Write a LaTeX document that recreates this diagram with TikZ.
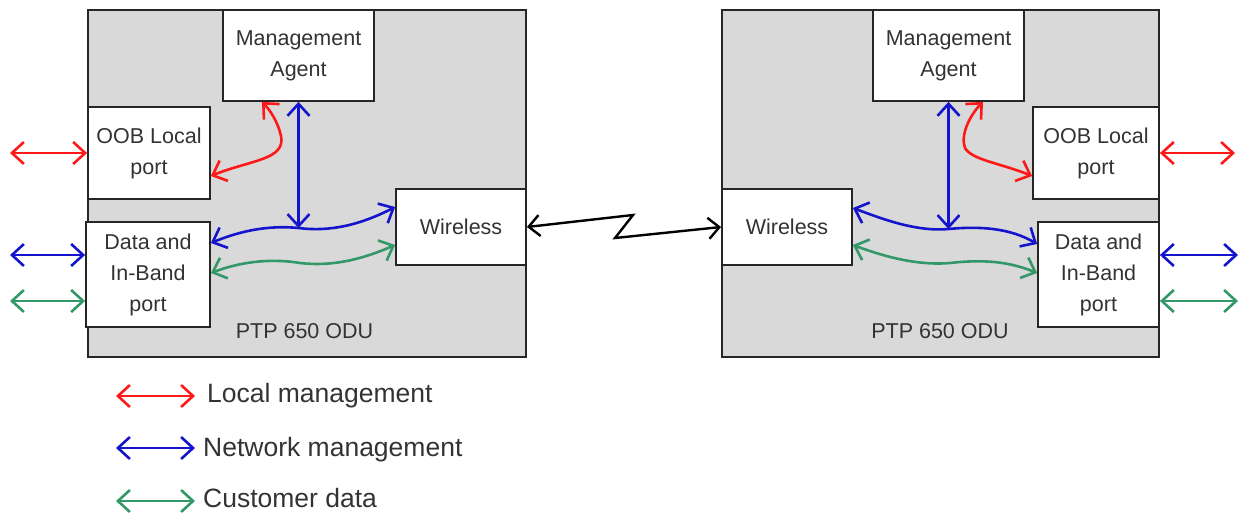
\documentclass[tikz,border=0pt]{standalone}
\usepackage{fontspec}
\setmainfont{Liberation Sans}
\usetikzlibrary{arrows.meta}
\definecolor{grayc}{RGB}{217,217,217}
\definecolor{bordc}{RGB}{38,38,38}
\definecolor{txtc}{RGB}{51,51,51}
\definecolor{redc}{RGB}{255,24,24}
\definecolor{bluec}{RGB}{20,20,205}
\definecolor{greenc}{RGB}{50,152,104}
\tikzset{
  odu/.style={draw=bordc, line width=1.8pt, fill=grayc, inner sep=0pt},
  blk/.style={draw=bordc, line width=1.8pt, fill=white, inner sep=0pt, align=center,
    text=txtc, font=\fontsize{21.5}{31}\selectfont},
  lbl/.style={text=txtc, font=\fontsize{21.5}{31}\selectfont, inner sep=0pt},
  leg/.style={text=txtc, font=\fontsize{26.5}{31}\selectfont, inner sep=0pt, anchor=base west},
  arr/.style={line width=2.6pt, {Straight Barb[length=12pt,width=22pt]}-{Straight Barb[length=12pt,width=22pt]}},
  lm/.style={arr, draw=redc},
  nm/.style={arr, draw=bluec},
  cd/.style={arr, draw=greenc},
  rf/.style={line width=2.4pt, draw=black, {Straight Barb[length=11pt,width=21pt]}-{Straight Barb[length=11pt,width=21pt]}},
}
\begin{document}
\begin{tikzpicture}[x=1pt,y=-1pt]
\useasboundingbox (0,0) rectangle (1246,514);
% ---------- left unit ----------
\node[odu, minimum width=438pt, minimum height=347pt] (oduL) at (307,183.5) {};
\node[lbl, anchor=base] (tL) at (304.5,338) {PTP 650 ODU};
\node[blk, minimum width=151pt, minimum height=91pt] (maL) at (298.5,55.5) {Management\\Agent};
\node[blk, minimum width=122pt, minimum height=92pt] (ooL) at (149,153) {OOB Local\\port};
\node[blk, minimum width=124pt, minimum height=105pt] (dL) at (148,274.5) {Data and\\In-Band\\port};
\node[blk, minimum width=130pt, minimum height=76pt] (wL) at (461,227) {Wireless};
% ---------- right unit ----------
\node[odu, minimum width=437pt, minimum height=347pt] (oduR) at (940.5,183.5) {};
\node[lbl, anchor=base] (tR) at (940,338) {PTP 650 ODU};
\node[blk, minimum width=151pt, minimum height=91pt] (maR) at (948.5,55.5) {Management\\Agent};
\node[blk, minimum width=126pt, minimum height=92pt] (ooR) at (1096,153) {OOB Local\\port};
\node[blk, minimum width=121pt, minimum height=105pt] (dR) at (1098.5,274.5) {Data and\\In-Band\\port};
\node[blk, minimum width=130pt, minimum height=76pt] (wR) at (787,227) {Wireless};
% ---------- external ends ----------
\coordinate (xRL) at (10,153);
\coordinate (xBL) at (10,255);
\coordinate (xGL) at (10,301);
\coordinate (xRR) at (1235,153);
\coordinate (xBR) at (1238,255);
\coordinate (xGR) at (1238,301);
\draw[lm] (xRL) -- (ooL.west);
\draw[nm] (xBL) -- ([yshift=19.5pt]dL.west);
\draw[cd] (xGL) -- ([yshift=-26.5pt]dL.west);
\draw[lm] (ooR.east) -- (xRR);
\draw[nm] ([yshift=19.5pt]dR.east) -- (xBR);
\draw[cd] ([yshift=-26.5pt]dR.east) -- (xGR);
% ---------- inner left ----------
\coordinate (mL) at (298.5,228);
\draw[nm] ([yshift=31.5pt]dL.east) .. controls (240,231) and (268,225) .. (mL)
   .. controls (330,232) and (360,225) .. ([yshift=20pt]wL.west);
\draw[nm] (maL.south) -- (mL);
\draw[cd] ([yshift=1.5pt]dL.east) .. controls (240,262) and (270,258) .. (300,263)
   .. controls (335,267) and (365,258) .. ([yshift=-18pt]wL.west);
\draw[lm] ([yshift=-23pt]ooL.east) .. controls (250,160) and (286,160) .. (281,136)
   .. controls (278,122) and (270,110) .. ([xshift=-36.5pt]maL.south);
% ---------- inner right ----------
\coordinate (mR) at (948.5,229);
\draw[nm] ([yshift=19pt]wR.east) .. controls (880,218) and (915,232) .. (mR)
   .. controls (980,226) and (1010,228) .. ([yshift=30.5pt]dR.west);
\draw[nm] (maR.south) -- (mR);
\draw[cd] ([yshift=-18pt]wR.east) .. controls (880,255) and (915,266) .. (950,263)
   .. controls (985,259) and (1010,262) .. ([yshift=1.5pt]dR.west);
\draw[lm] ([xshift=34.5pt]maR.south) .. controls (970,115) and (960,135) .. (965,148)
   .. controls (972,160) and (1000,163) .. ([yshift=-23pt]ooR.west);
% ---------- radio link ----------
\draw[rf] (wL.east) -- (633,215) -- (615,238) -- (wR.west);
% ---------- legend ----------
\coordinate (lr1) at (116,396); \coordinate (lr2) at (195,396);
\coordinate (lb1) at (116,448); \coordinate (lb2) at (195,448);
\coordinate (lg1) at (116,501); \coordinate (lg2) at (195,501);
\draw[lm] (lr1) -- (lr2);
\draw[nm] (lb1) -- (lb2);
\draw[cd] (lg1) -- (lg2);
\node[leg] (t1) at (207,402) {Local management};
\node[leg] (t2) at (203,456) {Network management};
\node[leg] (t3) at (203,507) {Customer data};
\end{tikzpicture}
\end{document}
